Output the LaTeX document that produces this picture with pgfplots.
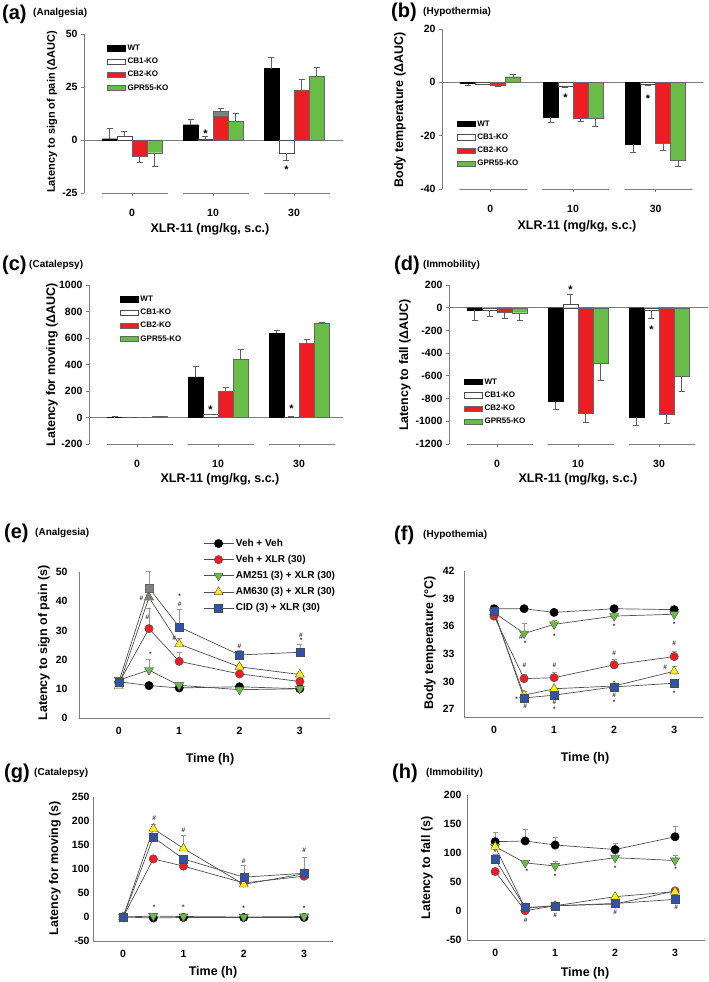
\documentclass[border=0pt]{standalone}
\usepackage{fontspec}
\setmainfont{Liberation Sans}
\usepackage{pgfplots}
\pgfplotsset{compat=1.18}
\definecolor{cred}{RGB}{236,30,36}
\definecolor{cgreen}{RGB}{106,188,72}
\definecolor{cyellow}{RGB}{255,238,30}
\definecolor{cblue}{RGB}{46,84,168}
\definecolor{axgray}{RGB}{125,125,125}
\definecolor{errgray}{RGB}{95,95,95}
\definecolor{lerr}{RGB}{150,150,150}
\definecolor{linegray}{RGB}{80,80,80}
\definecolor{capgray}{RGB}{128,128,128}
\newcommand\fs[1]{\bfseries\fontsize{#1}{#1}\selectfont}
\newcommand\an[3]{\node[font=\fs{6.5}, text=black!80, inner sep=0pt] at (axis cs:#1,#2) {#3};}
\newcommand\st[2]{\node[font=\fs{11}, inner sep=0pt, yshift=-2pt] at (axis cs:#1,#2) {*};}
\pgfplotsset{
  common/.style={
    scale only axis, clip=false,
    /pgf/number format/assume math mode=true,
    /pgf/number format/1000 sep={},
    tick label style={font=\fs{10.5}},
    axis line style={-, axgray, line width=0.7pt},
    legend cell align=left,
  },
  barpanel/.style={
    common,
    axis y line*=left, axis x line*=bottom,
    x axis line style={draw=none},
    tick align=outside, major tick length=3pt,
    tick style={axgray, line width=0.7pt},
    xtick={0,1,2}, xticklabels={0,10,30},
    xticklabel style={anchor=center, yshift=-17pt},
    extra y ticks={0}, extra y tick labels={},
    extra y tick style={grid=major, major grid style={axgray, line width=0.7pt}},
    legend style={draw=none, fill=none, inner sep=0pt, font=\fs{8}, row sep=2.6pt, nodes={inner sep=1.8pt}},
  },
  bw/.style={ybar, bar width=15pt, bar shift=#1, line width=0.4pt,
    legend image code/.code={\draw[##1, line width=0.5pt] (0pt,-2.6pt) rectangle (18pt,2.6pt);}},
  ep/.style={draw=none, mark=none, forget plot,
    error bars/y dir=plus, error bars/y explicit,
    error bars/error bar style={draw=errgray, line width=0.6pt},
    error bars/error mark options={rotate=90, draw=errgray, line width=0.6pt, mark size=3pt}},
  em/.style={draw=none, mark=none, forget plot,
    error bars/y dir=minus, error bars/y explicit,
    error bars/error bar style={draw=errgray, line width=0.6pt},
    error bars/error mark options={rotate=90, draw=errgray, line width=0.6pt, mark size=3pt}},
  linepanel/.style={
    common,
    axis x line*=bottom, axis y line*=left,
    tick style={draw=none}, major tick length=0pt,
    xtick={0,1,2,3},
    xticklabel style={anchor=center, yshift=-13pt},
    legend style={draw=none, fill=none, inner sep=0pt, font=\fs{10}, row sep=3.4pt, nodes={inner sep=2pt}},
    legend image code/.code={\draw[mark repeat=2,mark phase=2,##1] plot coordinates {(0pt,0pt)(15pt,0pt)(30pt,0pt)};},
  },
  ls/.style={draw=linegray, line width=0.7pt,
    error bars/y dir=plus, error bars/y explicit,
    error bars/error bar style={lerr, line width=0.5pt},
    error bars/error mark options={rotate=90, lerr, line width=0.5pt, mark size=2.5pt}},
  s1/.style={ls, mark=*, mark size=4.2pt, mark options={fill=black, draw=black, line width=0.4pt}},
  s2/.style={ls, mark=*, mark size=4.2pt, mark options={fill=cred, draw=black!70, line width=0.4pt}},
  s3/.style={ls, mark=triangle*, mark size=5.2pt, mark options={rotate=180, fill=cgreen, draw=black!70, line width=0.4pt}},
  s4/.style={ls, mark=triangle*, mark size=5.2pt, mark options={fill=cyellow, draw=black!70, line width=0.4pt}},
  s5/.style={ls, mark=square*, mark size=4pt, mark options={fill=cblue, draw=black!70, line width=0.4pt}},
}
\begin{document}
\begin{tikzpicture}
\useasboundingbox (0,0) rectangle (709pt,982pt);
% ---------- panel labels ----------
\node[anchor=west, font=\fs{20}, inner sep=0pt] at (2pt,968pt) {(a)};
\node[anchor=west, font=\fs{10}, inner sep=0pt] at (33pt,969pt) {(Analgesia)};
\node[anchor=west, font=\fs{20}, inner sep=0pt] at (391pt,970pt) {(b)};
\node[anchor=west, font=\fs{10}, inner sep=0pt] at (423pt,970pt) {(Hypothermia)};
\node[anchor=west, font=\fs{20}, inner sep=0pt] at (2pt,717pt) {(c)};
\node[anchor=west, font=\fs{10}, inner sep=0pt] at (29pt,717pt) {(Catalepsy)};
\node[anchor=west, font=\fs{20}, inner sep=0pt] at (394pt,717pt) {(d)};
\node[anchor=west, font=\fs{10}, inner sep=0pt] at (423pt,717pt) {(Immobility)};
\node[anchor=west, font=\fs{20}, inner sep=0pt] at (4pt,449pt) {(e)};
\node[anchor=west, font=\fs{10}, inner sep=0pt] at (35pt,449pt) {(Analgesia)};
\node[anchor=west, font=\fs{20}, inner sep=0pt] at (394pt,447pt) {(f)};
\node[anchor=west, font=\fs{10}, inner sep=0pt] at (423pt,447pt) {(Hypothemia)};
\node[anchor=west, font=\fs{20}, inner sep=0pt] at (4pt,209pt) {(g)};
\node[anchor=west, font=\fs{10}, inner sep=0pt] at (34pt,209pt) {(Catalepsy)};
\node[anchor=west, font=\fs{20}, inner sep=0pt] at (392pt,209pt) {(h)};
\node[anchor=west, font=\fs{10}, inner sep=0pt] at (426pt,209pt) {(Immobility)};
% ---------- axis titles ----------
\node[font=\fs{12.5}] at (210pt,753pt) {XLR-11 (mg/kg, s.c.)};
\node[font=\fs{12.5}] at (577pt,756pt) {XLR-11 (mg/kg, s.c.)};
\node[font=\fs{12.5}] at (220pt,503pt) {XLR-11 (mg/kg, s.c.)};
\node[font=\fs{12.5}] at (578pt,503pt) {XLR-11 (mg/kg, s.c.)};
\node[font=\fs{12.5}] at (210pt,223pt) {Time (h)};
\node[font=\fs{12.5}] at (585pt,224pt) {Time (h)};
\node[font=\fs{12.5}] at (213pt,10pt) {Time (h)};
\node[font=\fs{12.5}] at (585pt,9pt) {Time (h)};
\node[font=\fs{11}, rotate=90] at (52pt,870pt) {Latency to sign of pain (ΔAUC)};
\node[font=\fs{12.5}, rotate=90] at (400pt,872pt) {Body temperature (ΔAUC)};
\node[font=\fs{12.5}, rotate=90] at (52pt,617pt) {Latency for moving (ΔAUC)};
\node[font=\fs{12.5}, rotate=90] at (405pt,617pt) {Latency to fall (ΔAUC)};
\node[font=\fs{12.5}, rotate=90] at (44pt,339pt) {Latency to sign of pain (s)};
\node[font=\fs{12.5}, rotate=90] at (430pt,339pt) {Body temperature (°C)};
\node[font=\fs{12.5}, rotate=90] at (55pt,114pt) {Latency for moving (s)};
\node[font=\fs{12.5}, rotate=90] at (427pt,114pt) {Latency to fall (s)};

% ================= (a) =================
\begin{axis}[barpanel, at={(84pt,789pt)}, anchor=south west, width=259pt, height=159pt,
  xmin=-0.593, xmax=2.605, ymin=-25, ymax=50, ytick={-25,0,25,50},
  legend style={at={(0.089,0.945)}, anchor=north west}]
\addplot[bw=-22.5pt, fill=black, draw=black] coordinates {(0,0.6) (1,7.2) (2,33.7)};
\addlegendentry{WT}
\addplot[bw=-7.5pt, fill=white, draw=black!70] coordinates {(0,1.9) (1,0.3) (2,-6)};
\addlegendentry{CB1-KO}
\addplot[bw=7.5pt, fill=capgray, draw=black!60, forget plot] coordinates {(1,13.4)};
\addplot[bw=7.5pt, fill=cred, draw=black!60] coordinates {(0,-7.5) (1,11) (2,23.6)};
\addlegendentry{CB2-KO}
\addplot[bw=22.5pt, fill=cgreen, draw=black!60] coordinates {(0,-6) (1,9) (2,30.2)};
\addlegendentry{GPR55-KO}
\addplot[ep] coordinates {(-0.278,0.6) +- (0,4.7) (0.722,7.2) +- (0,2.6) (1.722,33.7) +- (0,5.2)
  (-0.093,1.9) +- (0,2) (0.907,0.3) +- (0,1.3) (1.093,13.4) +- (0,1.7) (2.093,23.6) +- (0,5.1)
  (1.278,9) +- (0,3.4) (2.278,30.2) +- (0,4.3)};
\addplot[em] coordinates {(1.907,-6) +- (0,3.8) (0.093,-7.5) +- (0,2.9) (0.278,-6) +- (0,6.6)};
\draw[axgray, line width=0.7pt] (axis cs:-0.37,-25) -- (axis cs:0.44,-25);
\draw[axgray, line width=0.7pt] (axis cs:0.63,-25) -- (axis cs:1.44,-25);
\draw[axgray, line width=0.7pt] (axis cs:1.63,-25) -- (axis cs:2.44,-25);
\st{0.907}{3.9}
\st{1.907}{-13.1}
\end{axis}

% ================= (b) =================
\begin{axis}[barpanel, at={(442pt,793pt)}, anchor=south west, width=261pt, height=160pt,
  xmin=-0.585, xmax=2.573, ymin=-40, ymax=20, ytick={-40,-20,0,20},
  legend style={at={(0.057,0.44)}, anchor=north west}]
\addplot[bw=-22.5pt, fill=black, draw=black] coordinates {(0,-0.5) (1,-13.1) (2,-23.3)};
\addlegendentry{WT}
\addplot[bw=-7.5pt, fill=white, draw=black!70] coordinates {(0,-0.6) (1,-1.5) (2,-0.8)};
\addlegendentry{CB1-KO}
\addplot[bw=7.5pt, fill=cred, draw=black!60] coordinates {(0,-1.1) (1,-13.3) (2,-23)};
\addlegendentry{CB2-KO}
\addplot[bw=22.5pt, fill=cgreen, draw=black!60] coordinates {(0,2.1) (1,-13.4) (2,-29.1)};
\addlegendentry{GPR55-KO}
\addplot[ep] coordinates {(0.272,2.1) +- (0,1)};
\addplot[em] coordinates {(-0.272,-0.5) +- (0,0.6) (0.728,-13.1) +- (0,2) (1.728,-23.3) +- (0,3)
  (-0.091,-0.6) +- (0,0.2) (0.909,-1.5) +- (0,0.3) (1.909,-0.8) +- (0,0.3)
  (0.091,-1.1) +- (0,0.4) (1.091,-13.3) +- (0,1.2) (2.091,-23) +- (0,2.4)
  (1.272,-13.4) +- (0,3) (2.272,-29.1) +- (0,2.3)};
\draw[axgray, line width=0.7pt] (axis cs:-0.37,-40) -- (axis cs:0.44,-40);
\draw[axgray, line width=0.7pt] (axis cs:0.63,-40) -- (axis cs:1.44,-40);
\draw[axgray, line width=0.7pt] (axis cs:1.63,-40) -- (axis cs:2.44,-40);
\st{0.909}{-5.1}
\st{1.909}{-5.4}
\end{axis}

% ================= (c) =================
\begin{axis}[barpanel, at={(89pt,538pt)}, anchor=south west, width=254pt, height=159pt,
  xmin=-0.593, xmax=2.543, ymin=-200, ymax=1000, ytick={-200,0,200,400,600,800,1000},
  legend style={at={(0.122,0.945)}, anchor=north west}]
\addplot[bw=-22.5pt, fill=black, draw=black] coordinates {(0,3) (1,306) (2,635)};
\addlegendentry{WT}
\addplot[bw=-7.5pt, fill=white, draw=black!70] coordinates {(0,0) (1,22) (2,5)};
\addlegendentry{CB1-KO}
\addplot[bw=7.5pt, fill=cred, draw=black!60] coordinates {(0,2) (1,198) (2,557)};
\addlegendentry{CB2-KO}
\addplot[bw=22.5pt, fill=cgreen, draw=black!60] coordinates {(0,6) (1,437) (2,708)};
\addlegendentry{GPR55-KO}
\addplot[ep] coordinates {(-0.278,3) +- (0,3) (0.722,306) +- (0,81) (1.722,635) +- (0,25)
  (-0.093,0) +- (0,2) (0.907,22) +- (0,3) (1.907,5) +- (0,3)
  (0.093,2) +- (0,2) (1.093,198) +- (0,28) (2.093,557) +- (0,33)
  (0.278,6) +- (0,4) (1.278,437) +- (0,75) (2.278,708) +- (0,10)};
\draw[axgray, line width=0.7pt] (axis cs:-0.37,-200) -- (axis cs:0.44,-200);
\draw[axgray, line width=0.7pt] (axis cs:0.63,-200) -- (axis cs:1.44,-200);
\draw[axgray, line width=0.7pt] (axis cs:1.63,-200) -- (axis cs:2.44,-200);
\st{0.907}{73}
\st{1.907}{85}
\end{axis}

% ================= (d) =================
\begin{axis}[barpanel, at={(449pt,538pt)}, anchor=south west, width=259pt, height=159pt,
  xmin=-0.593, xmax=2.605, ymin=-1200, ymax=200, ytick={-1200,-1000,-800,-600,-400,-200,0,200},
  legend style={at={(0.058,0.424)}, anchor=north west}]
\addplot[bw=-22.5pt, fill=black, draw=black] coordinates {(0,-23) (1,-826) (2,-964)};
\addlegendentry{WT}
\addplot[bw=-7.5pt, fill=white, draw=black!70] coordinates {(0,-20) (1,32) (2,-23)};
\addlegendentry{CB1-KO}
\addplot[bw=7.5pt, fill=cred, draw=black!60] coordinates {(0,-38) (1,-929) (2,-938)};
\addlegendentry{CB2-KO}
\addplot[bw=22.5pt, fill=cgreen, draw=black!60] coordinates {(0,-44) (1,-489) (2,-601)};
\addlegendentry{GPR55-KO}
\addplot[ep] coordinates {(0.907,32) +- (0,85)};
\addplot[em] coordinates {(-0.278,-23) +- (0,91) (0.722,-826) +- (0,67) (1.722,-964) +- (0,73)
  (-0.093,-20) +- (0,53) (1.907,-23) +- (0,68)
  (0.093,-38) +- (0,56) (1.093,-929) +- (0,82) (2.093,-938) +- (0,79)
  (0.278,-44) +- (0,64) (1.278,-489) +- (0,153) (2.278,-601) +- (0,134)};
\draw[axgray, line width=0.7pt] (axis cs:-0.37,-1200) -- (axis cs:0.44,-1200);
\draw[axgray, line width=0.7pt] (axis cs:0.63,-1200) -- (axis cs:1.44,-1200);
\draw[axgray, line width=0.7pt] (axis cs:1.63,-1200) -- (axis cs:2.44,-1200);
\st{0.907}{176}
\st{1.907}{-173}
\end{axis}

% ================= (e) =================
\begin{axis}[linepanel, at={(79pt,264pt)}, anchor=south west, width=251pt, height=146pt,
  xmin=-0.66, xmax=3.5, ymin=0, ymax=50, ytick={0,10,20,30,40,50},
  yticklabel style={xshift=-8pt},
  legend style={at={(0.494,1.24)}, anchor=north west}]
\addplot[s1] coordinates {(0,12.4) (0.5,11.1) (1,10.3) (2,10.7) (3,10.0)};
\addlegendentry{Veh + Veh}
\addplot[s2] coordinates {(0,12) (0.5,30.6) +- (0,7) (1,19.4) +- (0,3.1) (2,15.1) +- (0,1) (3,12.5) +- (0,1)};
\addlegendentry{Veh + XLR (30)}
\addplot[s3] coordinates {(0,13) (0.5,16.4) +- (0,3.6) (1,11.2) (2,9.7) (3,10)};
\addlegendentry{AM251 (3) + XLR (30)}
\addplot[s4] coordinates {(0,11) (0.5,41.3) (1,25.3) +- (0,2) (2,17.5) +- (0,1) (3,14.9)};
\addlegendentry{AM630 (3) + XLR (30)}
\addplot[s5] coordinates {(0,12.4) (0.5,44.5) +- (0,5.7) (1,31.2) +- (0,6.1) (2,21.6) +- (0,1.5) (3,22.5) +- (0,2.7)};
\addlegendentry{CID (3) + XLR (30)}
\addplot[only marks, mark=triangle*, mark size=5.2pt, mark options={fill=gray, draw=black!60, line width=0.4pt}, forget plot] coordinates {(0.5,41.3)};
\addplot[only marks, mark=square*, mark size=4pt, mark options={fill=gray, draw=black!60, line width=0.4pt}, forget plot] coordinates {(0.5,44.5)};
\an{0.376}{41}{\#}
\an{0.475}{34.5}{\#}
\an{0.525}{21.9}{*}
\an{1.01}{41.6}{*}
\an{1.01}{39.1}{\#}
\an{0.917}{27.3}{\#}
\an{2.0}{24.7}{\#}
\an{3.02}{28.4}{\#}
\an{3.02}{26.7}{*}
\end{axis}

% ================= (f) =================
\begin{axis}[linepanel, at={(464pt,265pt)}, anchor=south west, width=239pt, height=146pt,
  xmin=-0.5, xmax=3.48, ymin=26.13, ymax=42, ytick={27,30,33,36,39,42},
  yticklabel style={xshift=-6pt}]
\addplot[s1] coordinates {(0,37.9) (0.5,37.9) (1,37.5) (2,37.9) (3,37.8)};
\addplot[s2] coordinates {(0,37.1) (0.5,30.3) +- (0,0.5) (1,30.4) +- (0,0.6) (2,31.8) +- (0,0.6) (3,32.7) +- (0,0.6)};
\addplot[s3] coordinates {(0,37.5) (0.5,35.2) +- (0,1.1) (1,36.2) +- (0,0.4) (2,37.1) (3,37.3)};
\addplot[s4] coordinates {(0,37.5) (0.5,28.5) +- (0,0.4) (1,29.2) (2,29.5) (3,31.1) +- (0,0.6)};
\addplot[s5] coordinates {(0,37.6) (0.5,28.2) (1,28.5) (2,29.4) +- (0,0.3) (3,29.8)};
\an{0.45}{34.75}{\#}
\an{0.517}{34.1}{*}
\an{0.505}{31.8}{\#}
\an{0.378}{28.05}{*}
\an{0.517}{27.25}{\#}
\an{1.005}{34.9}{*}
\an{1.005}{31.7}{\#}
\an{1.005}{27.7}{\#}
\an{1.005}{27.0}{*}
\an{2.0}{36.0}{*}
\an{2.0}{33.05}{\#}
\an{2.0}{28.5}{\#}
\an{2.0}{27.7}{*}
\an{3.0}{36.2}{*}
\an{3.0}{34.1}{\#}
\an{2.85}{31.5}{\#}
\an{3.0}{28.7}{*}
\end{axis}

% ================= (g) =================
\begin{axis}[linepanel, at={(93pt,41pt)}, anchor=south west, width=240pt, height=144pt,
  xmin=-0.5, xmax=3.48, ymin=-50, ymax=250, ytick={-50,0,50,100,150,200,250}]
\addplot[s1] coordinates {(0,0) (0.5,-2) (1,-1) (2,-1) (3,-1)};
\addplot[s2] coordinates {(0,0) (0.5,121) (1,106) (2,71) (3,85)};
\addplot[s3] coordinates {(0,0) (0.5,2) (1,1) (2,0) (3,1)};
\addplot[s4] coordinates {(0,0) (0.5,184) +- (0,10) (1,143) +- (0,27) (2,68) (3,90)};
\addplot[s5] coordinates {(0,0) (0.5,166) +- (0,8) (1,121) (2,83) +- (0,24) (3,91) +- (0,34)};
\an{0.514}{206}{\#}
\an{0.514}{20.8}{*}
\an{1.0}{180}{\#}
\an{1.0}{20.8}{*}
\an{2.0}{115.7}{\#}
\an{2.0}{17.3}{*}
\an{3.0}{138.6}{\#}
\an{3.0}{17.3}{*}
\end{axis}

% ================= (h) =================
\begin{axis}[linepanel, at={(467pt,42pt)}, anchor=south west, width=238pt, height=145pt,
  xmin=-0.47, xmax=3.5, ymin=-50, ymax=200, ytick={-50,0,50,100,150,200},
  yticklabel style={xshift=-2pt}]
\addplot[s1] coordinates {(0,119.5) +- (0,15.5) (0.5,120.7) +- (0,21) (1,113.8) +- (0,13) (2,106) +- (0,11) (3,128) +- (0,18.6)};
\addplot[s2] coordinates {(0,68) (0.5,0.5) (1,9) (2,12) (3,34.5)};
\addplot[s3] coordinates {(0,111) (0.5,83) +- (0,5) (1,77.6) +- (0,9) (2,92) +- (0,7) (3,87) +- (0,9.6)};
\addplot[s4] coordinates {(0,111) (0.5,5) (1,9) (2,24.7) (3,33.3)};
\addplot[s5] coordinates {(0,89) +- (0,8) (0.5,5.7) +- (0,4) (1,9) +- (0,3) (2,13) (3,20)};
\an{0.53}{67.8}{*}
\an{1.0}{60.3}{*}
\an{2.0}{73.6}{*}
\an{3.01}{72.4}{*}
\an{0.51}{-15.5}{\#}
\an{1.0}{-6.9}{\#}
\an{2.0}{-2.9}{\#}
\an{3.02}{5.7}{\#}
\end{axis}
\end{tikzpicture}
\end{document}
